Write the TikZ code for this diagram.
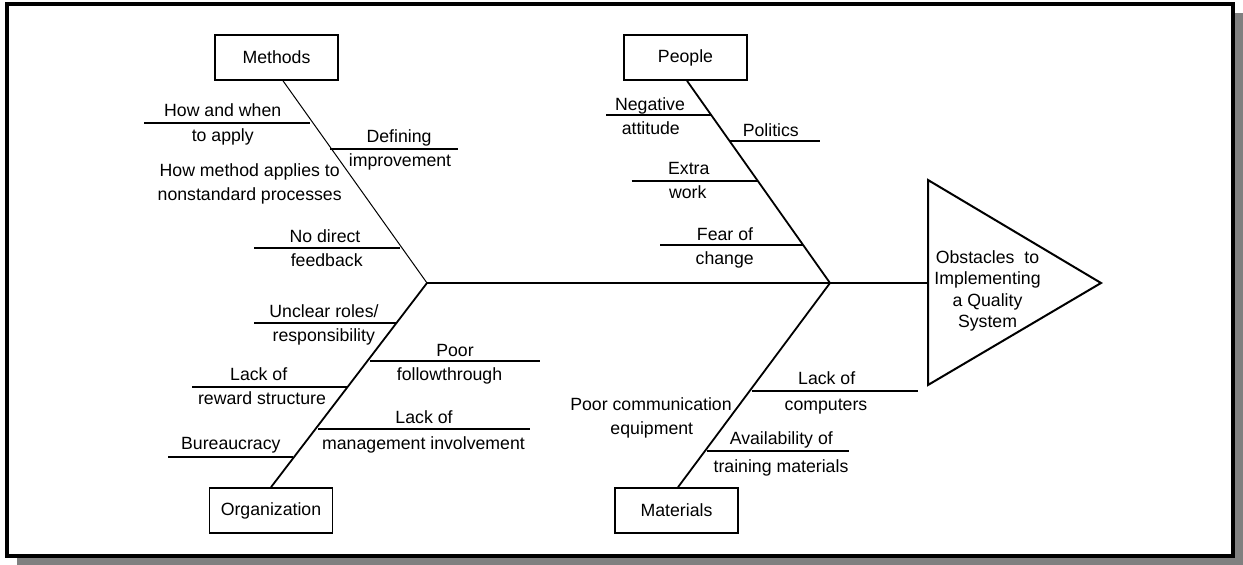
\documentclass[tikz,border=0pt]{standalone}
\usepackage{fontspec}
\setmainfont{Liberation Sans}
\usetikzlibrary{calc}
\tikzset{
  catbox/.style={draw,line width=1.6pt,fill=white,minimum width=123pt,minimum height=45pt,inner sep=0pt},
  lbl/.style={inner sep=0pt,text height=12.7pt,text depth=0pt},
  bone/.style={line width=1.8pt},
  twig/.style={line width=1.8pt},
}
\begin{document}
\begin{tikzpicture}[x=1pt,y=-1pt,font=\fontsize{17.7}{21.3}\selectfont]
    \useasboundingbox (0,0) rectangle (1243,565);
    % frame with shadow
    \fill[gray] (17,13) rectangle (1243,565);
    \draw[line width=4pt,fill=white] (7,3.7) rectangle (1232.5,556);

    % category boxes
    \node[catbox] (methods) at (276.5,57.5) {Methods};
    \node[catbox] (people) at (685.5,57.5) {People};
    \node[catbox] (organization) at (271,510.5) {Organization};
    \node[catbox] (materials) at (676.5,510.5) {Materials};

    % spine and goal
    \coordinate (jl) at (427,283);
    \coordinate (jr) at (830,283);
    \coordinate (tl) at (928,283);
    \draw[line width=2pt] (928,180)--(1101,283)--(928,385)--cycle;
    \node[align=center,inner sep=0pt] (goal) at (987.5,291) {Obstacles~ to\\Implementing\\a Quality\\System};
    \draw[bone] (jl) -- (tl);

    % bones
    \draw[line width=1pt] ($(methods.south)+(6.5,0)$) -- (jl);
    \draw[bone] ($(organization.north)+(0,0)$) -- (jl);
    \draw[bone] ($(people.south)+(1.5,0)$) -- (jr);
    \draw[bone] ($(materials.north)+(1.5,0)$) -- (jr);

    % methods causes
    \draw[twig] (144,122.7) -- (310,122.7);
    \node[lbl] (howwhen) at (222.7,110) {How and when};
    \node[lbl] (toapply) at (222.8,135) {to apply};
    \draw[twig] (330,149) -- (457.7,149);
    \node[lbl] (defining) at (399,136) {Defining};
    \node[lbl] (improvement) at (400,160) {improvement};
    \node[lbl] (howmethod) at (249.7,170) {How method applies to};
    \node[lbl] (nonstandard) at (249.7,194) {nonstandard processes};
    \draw[twig] (254,248.3) -- (400,248.3);
    \node[lbl] (nodirect) at (325,236) {No direct};
    \node[lbl] (feedback) at (326.7,260) {feedback};

    % organization causes
    \draw[twig] (254,322.7) -- (397,322.7);
    \node[lbl] (unclear) at (324,310.7) {Unclear roles/};
    \node[lbl] (responsibility) at (323.8,335) {responsibility};
    \draw[twig] (370,360.7) -- (540,360.7);
    \node[lbl] (poor) at (455,350) {Poor};
    \node[lbl] (followthrough) at (449.5,374) {followthrough};
    \draw[twig] (192,386.7) -- (348,386.7);
    \node[lbl] (lackreward) at (258.7,374) {Lack of};
    \node[lbl] (reward) at (262,398) {reward structure};
    \draw[twig] (318,428.7) -- (530,428.7);
    \node[lbl] (lackmgmt) at (424,416.7) {Lack of};
    \node[lbl] (management) at (423.5,442.7) {management involvement};
    \draw[twig] (168,456.7) -- (293,456.7);
    \node[lbl] (bureaucracy) at (230.8,443.3) {Bureaucracy};

    % people causes
    \draw[twig] (606,115) -- (711.7,115);
    \node[lbl] (negative) at (650,104) {Negative};
    \node[lbl] (attitude) at (650.8,128) {attitude};
    \draw[twig] (730,140.7) -- (820,140.7);
    \node[lbl] (politics) at (770.8,130) {Politics};
    \draw[twig] (631.7,181) -- (758,181);
    \node[lbl] (extra) at (688.8,168.3) {Extra};
    \node[lbl] (work) at (687.8,192.3) {work};
    \draw[twig] (660,245) -- (803,245);
    \node[lbl] (fear) at (725,234) {Fear of};
    \node[lbl] (change) at (724.7,258.3) {change};

    % materials causes
    \draw[twig] (751.7,390.7) -- (917.7,390.7);
    \node[lbl] (lackcomp) at (826.7,378.3) {Lack of};
    \node[lbl] (computers) at (826,404) {computers};
    \draw[twig] (706.7,451) -- (849.3,451);
    \node[lbl] (availability) at (781.3,438.3) {Availability of};
    \node[lbl] (training) at (781,466) {training materials};
    \node[lbl] (poorcomm) at (651,404) {Poor communication};
    \node[lbl] (equipment) at (651.8,428.3) {equipment};
\end{tikzpicture}
\end{document}
